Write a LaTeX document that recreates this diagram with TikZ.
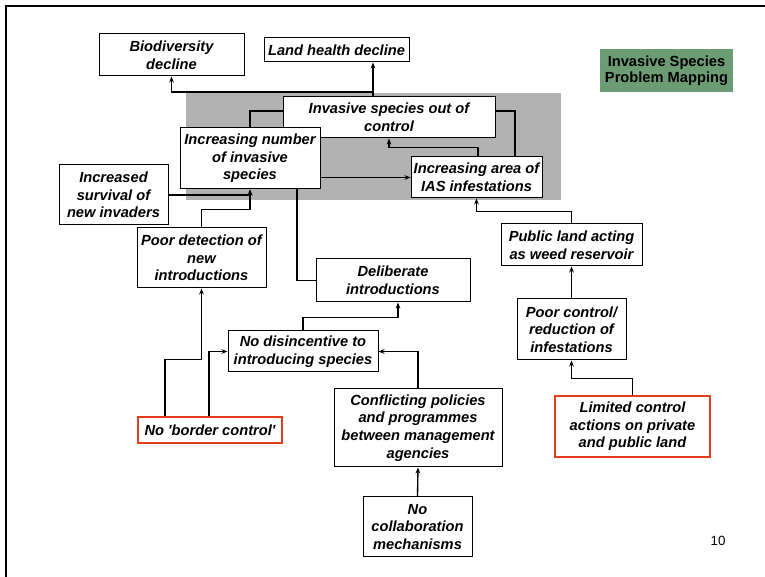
\documentclass[tikz,border=0pt]{standalone}
\usepackage{fontspec}
\setmainfont{Liberation Sans}
\usetikzlibrary{calc,arrows.meta}
\definecolor{panelgray}{RGB}{178,178,178}
\definecolor{titlegreen}{RGB}{108,156,115}
\definecolor{alertred}{RGB}{226,62,28}
\tikzset{
  box/.style={draw=black, line width=0.75pt, fill=white, align=center, inner sep=1pt,
    font=\fontsize{11}{13.2}\selectfont\bfseries\itshape},
  rootbox/.style={box, draw=alertred, line width=2.2pt},
  link/.style={line width=1pt},
  arrowlink/.style={link, -{Stealth[length=4.5pt,width=3.5pt]}}
}
\begin{document}
\begin{tikzpicture}[x=0.75pt,y=-0.75pt]
\useasboundingbox (0,0) rectangle (765,577);
% slide frame
\draw[line width=1.6pt] (6,577) -- (6,6) -- (765,6);
% shaded core cluster
\fill[panelgray] (186,93) rectangle (561,200);

% title tag
\node[fill=titlegreen, minimum width=99.75pt, minimum height=32.25pt, align=center, inner sep=1pt,
  font=\fontsize{11}{12.3}\selectfont\bfseries] (title) at (666.5,70.5) {Invasive Species\\Problem Mapping};

% outcomes
\node[box, minimum width=108.75pt, minimum height=31.5pt] (bio) at (171.5,55) {Biodiversity\\decline};
\node[box, minimum width=108.75pt, minimum height=18pt] (land) at (336.5,50) {Land health decline};

% core cluster
\node[box, minimum width=159pt, minimum height=30.75pt] (outctl) at (389,117.5) {Invasive species out of\\control};
\node[box, minimum width=105pt, minimum height=45.75pt] (incnum) at (250,158.5) {Increasing number\\of invasive\\species};
\node[box, minimum width=98.25pt, minimum height=30.75pt] (incarea) at (476.5,177.5) {Increasing area of\\IAS infestations};

% causes
\node[box, minimum width=81.75pt, minimum height=45pt] (survival) at (113.5,195) {Increased\\survival of\\new invaders};
\node[box, minimum width=96.75pt, minimum height=45pt] (poordet) at (201.5,258) {Poor detection of\\new\\introductions};
\node[box, minimum width=115.5pt, minimum height=32.25pt] (delib) at (393,280.5) {Deliberate\\introductions};
\node[box, minimum width=112.5pt, minimum height=30.75pt] (nodis) at (303,351.5) {No disincentive to\\introducing species};
\node[rootbox, minimum width=108pt, minimum height=19.5pt] (border) at (210,430) {No \textquotesingle border control\textquotesingle};
\node[box, minimum width=126pt, minimum height=58.5pt] (conflict) at (418,428) {Conflicting policies\\and programmes\\between management\\agencies};
\node[box, minimum width=81.75pt, minimum height=45pt] (nocollab) at (417.5,527) {No\\collaboration\\mechanisms};
\node[box, minimum width=105.75pt, minimum height=31.5pt] (public) at (571.5,245) {Public land acting\\as weed reservoir};
\node[box, minimum width=81.75pt, minimum height=45.75pt] (poorctl) at (571.5,329.5) {Poor control/\\reduction of\\infestations};
\node[rootbox, minimum width=116.25pt, minimum height=45.75pt] (limited) at (632.5,426.5) {Limited control\\actions on private\\and public land};

% page number
\node[font=\fontsize{10}{12}\selectfont] (pagenum) at (718,541) {10};

% links to the outcomes
\coordinate (hub) at (373,92);
\draw[arrowlink] (hub |- outctl.north) -- (hub |- land.south);
\draw[arrowlink] (hub) -| (bio.south);

% links inside the core cluster
\draw[link] (incnum.north) |- ($(outctl.west)+(0,-6.5)$);
\draw[link] ($(outctl.east)+(0,-6.5)$) -| ($(incarea.north)+(38.5,0)$);
\draw[arrowlink] ($(incarea.north)+(1.5,0)$) |- ($(outctl.south)+(0,9)$) -- (outctl.south);
\draw[arrowlink] (incnum.east |- incarea.west) -- (incarea.west);

% links into the core cluster
\draw[arrowlink] (survival.east) -| (incnum.south);
\draw[arrowlink] (poordet.north) |- ($(incnum.south)+(0,20)$) -- (incnum.south);
\draw[link] (delib.west) -| ($(incnum.south)+(47,0)$);
\draw[arrowlink] (public.north) |- ($(incarea.south)+(0,13)$) -- (incarea.south);

% lower causal chains
\draw[arrowlink] (nodis.north) |- ($(delib.south)+(5,15)$) -- ($(delib.south)+(5,0)$);
\draw[arrowlink] (conflict.north) |- (nodis.east);
\draw[arrowlink] ($(border.north)+(-45,0)$) |- ($(poordet.south)+(0,71)$) -- (poordet.south);
\draw[arrowlink] ($(border.north)+(-1,0)$) |- (nodis.west);
\draw[arrowlink] (nocollab.north) -- (conflict.south);
\draw[arrowlink] (poorctl.north) -- (public.south);
\draw[arrowlink] (limited.north) |- ($(poorctl.south)+(0,18)$) -- (poorctl.south);
\end{tikzpicture}
\end{document}
